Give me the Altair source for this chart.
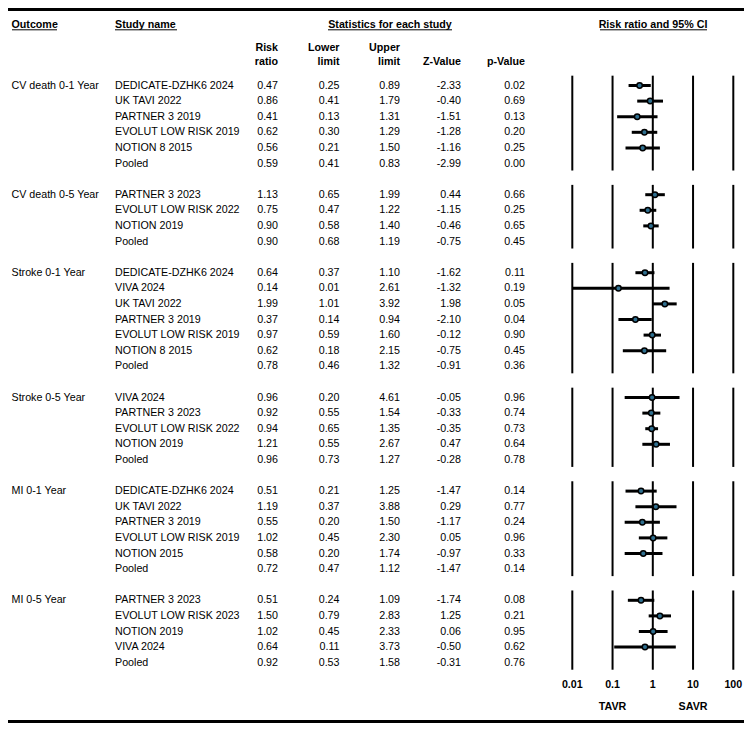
import altair as alt
import pandas as pd

# ---------------- data ----------------
outcomes = ["CV death 0-1 Year", "CV death 0-5 Year", "Stroke 0-1 Year",
            "Stroke 0-5 Year", "MI 0-1 Year", "MI 0-5 Year"]

studies = [
    ["DEDICATE-DZHK6 2024", "UK TAVI 2022", "PARTNER 3 2019", "EVOLUT LOW RISK 2019", "NOTION 8 2015", "Pooled"],
    ["PARTNER 3 2023", "EVOLUT LOW RISK 2022", "NOTION 2019", "Pooled"],
    ["DEDICATE-DZHK6 2024", "VIVA 2024", "UK TAVI 2022", "PARTNER 3 2019", "EVOLUT LOW RISK 2019", "NOTION 8 2015", "Pooled"],
    ["VIVA 2024", "PARTNER 3 2023", "EVOLUT LOW RISK 2022", "NOTION 2019", "Pooled"],
    ["DEDICATE-DZHK6 2024", "UK TAVI 2022", "PARTNER 3 2019", "EVOLUT LOW RISK 2019", "NOTION 2015", "Pooled"],
    ["PARTNER 3 2023", "EVOLUT LOW RISK 2023", "NOTION 2019", "VIVA 2024", "Pooled"],
]
risk_ratio = [
    [0.47, 0.86, 0.41, 0.62, 0.56, 0.59],
    [1.13, 0.75, 0.90, 0.90],
    [0.64, 0.14, 1.99, 0.37, 0.97, 0.62, 0.78],
    [0.96, 0.92, 0.94, 1.21, 0.96],
    [0.51, 1.19, 0.55, 1.02, 0.58, 0.72],
    [0.51, 1.50, 1.02, 0.64, 0.92],
]
lower_limit = [
    [0.25, 0.41, 0.13, 0.30, 0.21, 0.41],
    [0.65, 0.47, 0.58, 0.68],
    [0.37, 0.01, 1.01, 0.14, 0.59, 0.18, 0.46],
    [0.20, 0.55, 0.65, 0.55, 0.73],
    [0.21, 0.37, 0.20, 0.45, 0.20, 0.47],
    [0.24, 0.79, 0.45, 0.11, 0.53],
]
upper_limit = [
    [0.89, 1.79, 1.31, 1.29, 1.50, 0.83],
    [1.99, 1.22, 1.40, 1.19],
    [1.10, 2.61, 3.92, 0.94, 1.60, 2.15, 1.32],
    [4.61, 1.54, 1.35, 2.67, 1.27],
    [1.25, 3.88, 1.50, 2.30, 1.74, 1.12],
    [1.09, 2.83, 2.33, 3.73, 1.58],
]
z_value = [
    [-2.33, -0.40, -1.51, -1.28, -1.16, -2.99],
    [0.44, -1.15, -0.46, -0.75],
    [-1.62, -1.32, 1.98, -2.10, -0.12, -0.75, -0.91],
    [-0.05, -0.33, -0.35, 0.47, -0.28],
    [-1.47, 0.29, -1.17, 0.05, -0.97, -1.47],
    [-1.74, 1.25, 0.06, -0.50, -0.31],
]
p_value = [
    [0.02, 0.69, 0.13, 0.20, 0.25, 0.00],
    [0.66, 0.25, 0.65, 0.45],
    [0.11, 0.19, 0.05, 0.04, 0.90, 0.45, 0.36],
    [0.96, 0.74, 0.73, 0.64, 0.78],
    [0.14, 0.77, 0.24, 0.96, 0.33, 0.14],
    [0.08, 0.21, 0.95, 0.62, 0.76],
]
axis_ticks = [0.01, 0.1, 1, 10, 100]
axis_labels = ["0.01", "0.1", "1", "10", "100"]
side_labels = ["TAVR", "SAVR"]
side_ticks = [0.1, 10]

header_top = ["Outcome", "Study name", "Statistics for each study", "Risk ratio and 95% CI"]
col_head_1 = ["Risk", "Lower", "Upper", "", ""]
col_head_2 = ["ratio", "limit", "limit", "Z-Value", "p-Value"]

# ---------------- tables ----------------
rows, pts, dia, glines = [], [], [], []
r = 0
for g, name in enumerate(outcomes):
    first = r
    for i, s in enumerate(studies[g]):
        rows.append(dict(row=r, outcome=name if i == 0 else "", study=s,
                         rr=f"{risk_ratio[g][i]:.2f}", lo=f"{lower_limit[g][i]:.2f}",
                         hi=f"{upper_limit[g][i]:.2f}", z=f"{z_value[g][i]:.2f}",
                         p=f"{p_value[g][i]:.2f}"))
        if s == "Pooled":
            h = 0.25
            dia.append(dict(gid=g, k=0, x=lower_limit[g][i], y=r, y2=r))
            dia.append(dict(gid=g, k=1, x=risk_ratio[g][i], y=r - h, y2=r + h))
            dia.append(dict(gid=g, k=2, x=upper_limit[g][i], y=r, y2=r))
        else:
            pts.append(dict(row=r, rr=risk_ratio[g][i], lo=lower_limit[g][i], hi=upper_limit[g][i]))
        r += 1
    last = r - 1
    for t in axis_ticks:
        glines.append(dict(x=t, y=first - 0.63, y2=last + 0.45))
    r += 1
nrow = r - 2  # last used row index

rows_df = pd.DataFrame(rows)
pts_df = pd.DataFrame(pts)
dia_df = pd.DataFrame(dia)
gl_df = pd.DataFrame(glines)
tick_df = pd.DataFrame(dict(x=axis_ticks, label=axis_labels))
side_df = pd.DataFrame(dict(x=side_ticks, label=side_labels))
one = pd.DataFrame({"a": [0]})

# ---------------- scales ----------------
FONT = "Liberation Sans"
FS = 10.7
xscale = alt.Scale(type="log", domain=[0.01, 100], range=[564.3, 725.3], nice=False)
yscale = alt.Scale(domain=[0, nrow], range=[77.5, 654.7], nice=False, zero=False)

def X(f):
    return alt.X(f, type="quantitative", scale=xscale, axis=None)

def Y(f):
    return alt.Y(f, type="quantitative", scale=yscale, axis=None)

layers = []

# group reference lines
layers.append(alt.Chart(gl_df).mark_rule(color="black", strokeWidth=2).encode(
    x=X("x"), y=Y("y"), y2="y2"))
# confidence intervals
layers.append(alt.Chart(pts_df).mark_rule(color="black", strokeWidth=3).encode(
    x=X("lo"), x2="hi", y=Y("row")))
# study points
layers.append(alt.Chart(pts_df).mark_circle(size=30, color="#2f6f8f", stroke="black",
                                            strokeWidth=1.5, opacity=1).encode(
    x=X("rr"), y=Y("row")))
# pooled diamonds
layers.append(alt.Chart(dia_df).mark_area(orient="vertical", color="black", opacity=1).encode(
    x=X("x"), y=Y("y"), y2="y2", detail="gid:N", order="k:Q"))
# axis tick labels & side labels
layers.append(alt.Chart(tick_df).mark_text(font=FONT, fontSize=FS, fontWeight="bold",
                                           color="black", baseline="middle").encode(
    x=X("x"), y=alt.value(677), text="label:N"))
layers.append(alt.Chart(side_df).mark_text(font=FONT, fontSize=FS, fontWeight="bold",
                                           color="black", baseline="middle").encode(
    x=X("x"), y=alt.value(699), text="label:N"))

# row text columns
def col(field, xpos, align):
    return alt.Chart(rows_df).mark_text(font=FONT, fontSize=FS, color="black",
                                        align=align, baseline="middle").encode(
        x=alt.value(xpos), y=Y("row"), text=f"{field}:N")

layers += [
    col("outcome", 3.5, "left"),
    col("study", 107, "left"),
    col("rr", 270, "right"),
    col("lo", 331.5, "right"),
    col("hi", 392, "right"),
    col("z", 453, "right"),
    col("p", 517, "right"),
]

# headers
def label(txt, xpos, ypos, align):
    return alt.Chart(one).mark_text(font=FONT, fontSize=FS, fontWeight="bold", color="black",
                                    align=align, baseline="middle", text=txt).encode(
        x=alt.value(xpos), y=alt.value(ypos))

head_pos = [(3.5, "left"), (107, "left"), (382, "center"), (645, "center")]
for txt, (xp, al) in zip(header_top, head_pos):
    layers.append(label(txt, xp, 17, al))
col_x = [270, 331.5, 392, 453, 517]
for t1, t2, xp in zip(col_head_1, col_head_2, col_x):
    if t1:
        layers.append(label(t1, xp, 40, "right"))
    layers.append(label(t2, xp, 54, "right"))

# underlines
for x1, x2 in [(4, 49), (107, 169), (320, 444), (592, 699)]:
    layers.append(alt.Chart(one).mark_rule(color="black", strokeWidth=1).encode(
        x=alt.value(x1), x2=alt.value(x2), y=alt.value(21.8)))

# top / bottom thick lines
for yy in [1.5, 713.5]:
    layers.append(alt.Chart(one).mark_rule(color="black", strokeWidth=3).encode(
        x=alt.value(0), x2=alt.value(736), y=alt.value(yy)))

chart = alt.layer(*layers).properties(
    width=736, height=716, autosize=alt.AutoSizeParams(type="none"), padding=0,
    background="white"
).configure_view(strokeWidth=0)

chart.save("out.html", embed_options={"renderer": "svg", "actions": False})
